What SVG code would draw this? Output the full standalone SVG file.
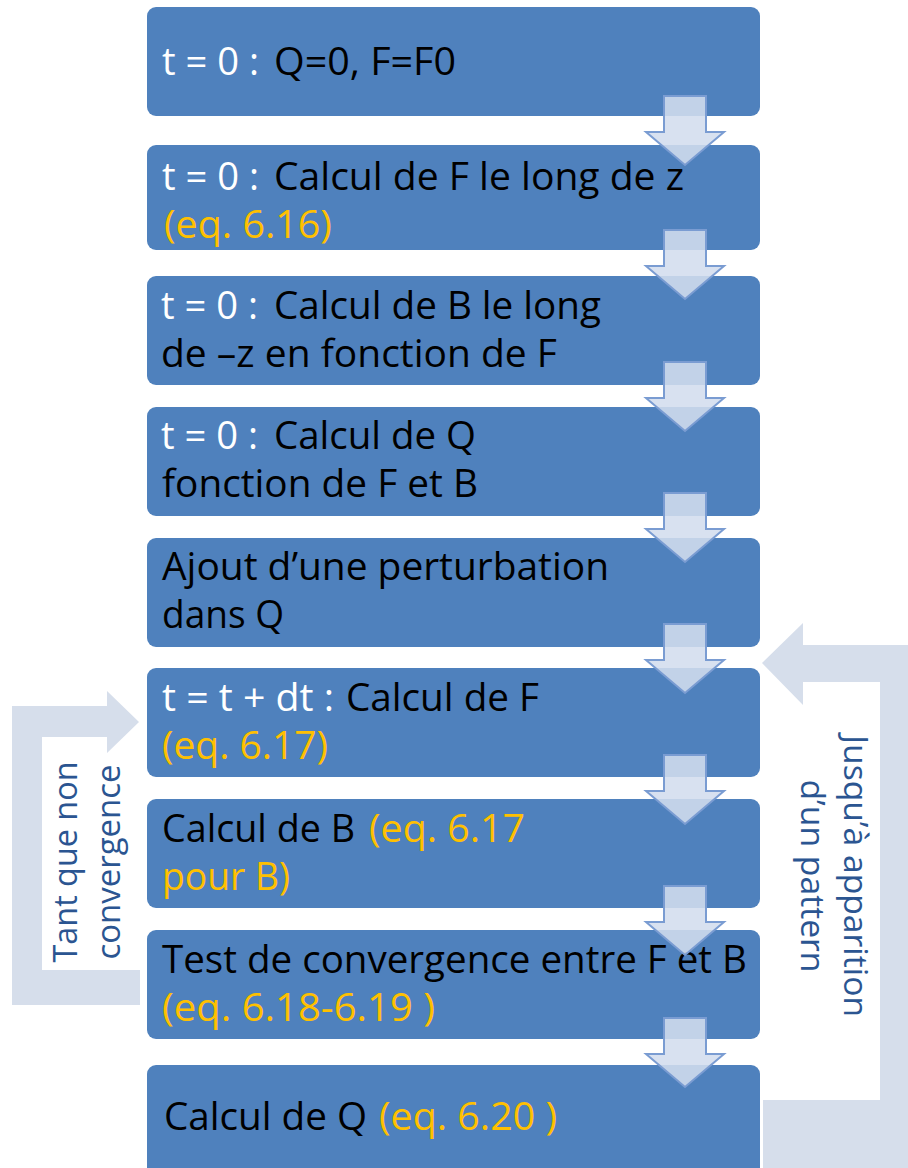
<svg xmlns="http://www.w3.org/2000/svg" width="908" height="1168" viewBox="0 0 908 1168">
<style>
.box{fill:#4f81bd;}
.t{font-family:"Open Sans","Liberation Sans",sans-serif;font-size:38px;}
.w{fill:#ffffff;}
.k{fill:#000000;}
.o{fill:#ffc000;}
.lbl{font-family:"Open Sans","Liberation Sans",sans-serif;font-size:33px;fill:#2b5591;text-anchor:middle;}
.arr{fill:#d3ddee;fill-opacity:0.88;stroke:#7a9cd2;stroke-width:2;stroke-linejoin:miter;}
.loop{fill:#d6deeb;}
</style>
<defs>
<path id="dn" d="M664,0 H706 V36 H724 L685,69 L646,36 H664 Z"/>
</defs>
<rect width="908" height="1168" fill="#ffffff"/>

<g id="loops">
<path class="loop" d="M12,706 H107 V691 L139,722 L107,753 V737 H42 V970 H140 V1005 H12 Z"/>
<path class="loop" d="M762,663 L803,623 V645 H908 V1168 H763 V1100 H880 V682 H803 V705 Z"/>
</g>

<g id="n1"><rect class="box" x="147" y="7" width="613" height="109" rx="9"/>
<text class="t w" x="162" y="75" textLength="97" lengthAdjust="spacingAndGlyphs">t = 0 :</text>
<text class="t k" x="274" y="75" textLength="182" lengthAdjust="spacingAndGlyphs">Q=0, F=F0</text></g>

<g id="n2"><rect class="box" x="147" y="145" width="613" height="105" rx="9"/>
<text class="t w" x="162" y="189.5" textLength="97" lengthAdjust="spacingAndGlyphs">t = 0 :</text>
<text class="t k" x="274" y="189.5" textLength="410" lengthAdjust="spacingAndGlyphs">Calcul de F le long de z</text>
<text class="t o" x="164" y="237.5" textLength="168" lengthAdjust="spacingAndGlyphs">(eq. 6.16)</text></g>

<g id="n3"><rect class="box" x="147" y="276" width="613" height="109" rx="9"/>
<text class="t w" x="161" y="318.5" textLength="97" lengthAdjust="spacingAndGlyphs">t = 0 :</text>
<text class="t k" x="274" y="318.5" textLength="327" lengthAdjust="spacingAndGlyphs">Calcul de B le long</text>
<text class="t k" x="161" y="366.5" textLength="396" lengthAdjust="spacingAndGlyphs">de –z en fonction de F</text></g>

<g id="n4"><rect class="box" x="147" y="407" width="613" height="109" rx="9"/>
<text class="t w" x="161" y="449" textLength="97" lengthAdjust="spacingAndGlyphs">t = 0 :</text>
<text class="t k" x="274" y="449" textLength="202" lengthAdjust="spacingAndGlyphs">Calcul de Q</text>
<text class="t k" x="162" y="497" textLength="316" lengthAdjust="spacingAndGlyphs">fonction de F et B</text></g>

<g id="n5"><rect class="box" x="147" y="538" width="613" height="109" rx="9"/>
<text class="t k" x="162" y="579.5" textLength="447" lengthAdjust="spacingAndGlyphs">Ajout d’une perturbation</text>
<text class="t k" x="162" y="627.5" textLength="122" lengthAdjust="spacingAndGlyphs">dans Q</text></g>

<g id="n6"><rect class="box" x="147" y="668" width="613" height="109" rx="9"/>
<text class="t w" x="162" y="710.5" textLength="172" lengthAdjust="spacingAndGlyphs">t = t + dt :</text>
<text class="t k" x="346" y="710.5" textLength="193" lengthAdjust="spacingAndGlyphs">Calcul de F</text>
<text class="t o" x="162" y="758.5" textLength="166" lengthAdjust="spacingAndGlyphs">(eq. 6.17)</text></g>

<g id="n7"><rect class="box" x="147" y="799" width="613" height="109" rx="9"/>
<text class="t k" x="162" y="842" textLength="193" lengthAdjust="spacingAndGlyphs">Calcul de B</text>
<text class="t o" x="369" y="842" textLength="156" lengthAdjust="spacingAndGlyphs">(eq. 6.17</text>
<text class="t o" x="162" y="890" textLength="128" lengthAdjust="spacingAndGlyphs">pour B)</text></g>

<g id="n8"><rect class="box" x="147" y="930" width="613" height="109" rx="9"/>
<text class="t k" x="162" y="972.5" textLength="585" lengthAdjust="spacingAndGlyphs">Test de convergence entre F et B</text>
<text class="t o" x="162" y="1020.5" textLength="273" lengthAdjust="spacingAndGlyphs">(eq. 6.18-6.19 )</text></g>

<g id="n9"><rect class="box" x="147" y="1065" width="613" height="115" rx="9"/>
<text class="t k" x="164" y="1130" textLength="203" lengthAdjust="spacingAndGlyphs">Calcul de Q</text>
<text class="t o" x="379" y="1130" textLength="178" lengthAdjust="spacingAndGlyphs">(eq. 6.20 )</text></g>

<g id="connectors">
<use href="#dn" class="arr" y="96"/>
<use href="#dn" class="arr" y="230"/>
<use href="#dn" class="arr" y="362"/>
<use href="#dn" class="arr" y="493"/>
<use href="#dn" class="arr" y="624"/>
<use href="#dn" class="arr" y="755"/>
<use href="#dn" class="arr" y="886"/>
<use href="#dn" class="arr" y="1018"/>
</g>

<g id="labels">
<text class="lbl" transform="translate(77,862) rotate(-90)" textLength="201" lengthAdjust="spacingAndGlyphs">Tant que non</text>
<text class="lbl" transform="translate(120,862) rotate(-90)" textLength="195" lengthAdjust="spacingAndGlyphs">convergence</text>
<text class="lbl" transform="translate(844,876) rotate(90)" textLength="282" lengthAdjust="spacingAndGlyphs">Jusqu’à apparition</text>
<text class="lbl" transform="translate(801,876) rotate(90)" textLength="193" lengthAdjust="spacingAndGlyphs">d’un pattern</text>
</g>
</svg>
